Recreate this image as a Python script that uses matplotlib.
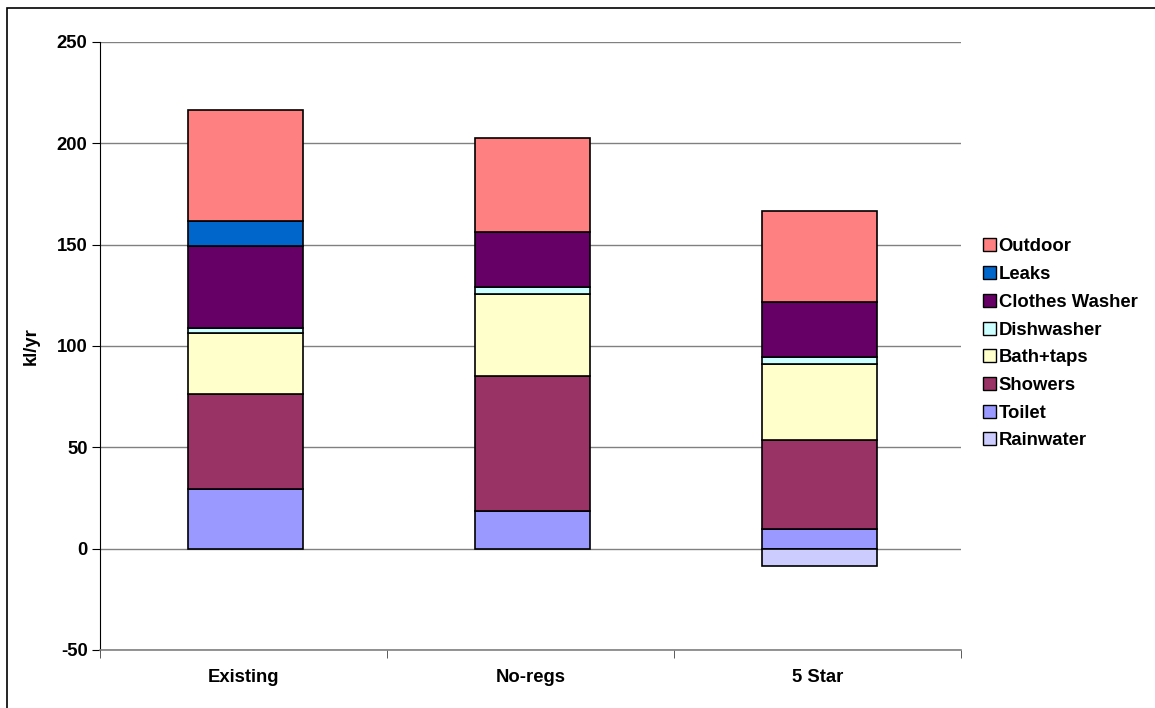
import numpy as np
import matplotlib
matplotlib.use('Agg')
import matplotlib.pyplot as plt
from matplotlib.patches import Patch, Rectangle

plt.rcParams['font.family'] = ['Liberation Sans', 'DejaVu Sans']
plt.rcParams['font.weight'] = 'bold'
plt.rcParams['axes.unicode_minus'] = False

scenarios = ['Existing', 'No-regs', '5 Star']

# stacked uses in kl/yr, bottom to top
toilet = [29.3, 18.6, 9.6]
showers = [46.8, 66.4, 43.9]
bath_taps = [30.3, 40.8, 37.6]
dishwasher = [2.6, 3.5, 3.5]
clothes_washer = [40.5, 27.1, 27.1]
leaks = [12.3, 0.0, 0.0]
outdoor = [54.6, 46.1, 44.8]
# rainwater offsets demand, drawn below zero
rainwater = [0.0, 0.0, -8.5]

layers = [
    ('Toilet', toilet, '#9999FF'),
    ('Showers', showers, '#993366'),
    ('Bath+taps', bath_taps, '#FFFFCC'),
    ('Dishwasher', dishwasher, '#CCFFFF'),
    ('Clothes Washer', clothes_washer, '#660066'),
    ('Leaks', leaks, '#0066CC'),
    ('Outdoor', outdoor, '#FF8080'),
]
rain_color = '#CCCCFF'
fs = 13.3

fig = plt.figure(figsize=(11.55, 7.08), dpi=100)
ax = fig.add_axes([100 / 1155, 1 - 650 / 708, 861 / 1155, 608 / 708])

x = np.arange(len(scenarios))
xb = x + 0.008
width = 0.4
bottom = np.zeros(len(scenarios))
for name, vals, color in layers:
    vals = np.array(vals)
    m = vals > 0
    ax.bar(xb[m], vals[m], width, bottom=bottom[m], color=color,
           edgecolor='black', linewidth=1.2, zorder=3)
    bottom += vals

rain = np.array(rainwater)
m = rain < 0
ax.bar(xb[m], rain[m], width, bottom=0, color=rain_color,
       edgecolor='black', linewidth=1.2, zorder=3)

ax.set_xlim(-0.5, 2.5)
ax.set_ylim(-50, 250)
ax.set_yticks(np.arange(-50, 251, 50))
ax.yaxis.grid(True, color='#808080', linewidth=1.0, zorder=0)
ax.set_axisbelow(True)

ax.set_xticks(x)
ax.set_xticklabels(scenarios, fontsize=fs, fontweight='bold')
ax.set_xticks([-0.5, 0.5, 1.5, 2.5], minor=True)
ax.tick_params(axis='x', which='major', length=0, pad=13.5)
ax.tick_params(axis='x', which='minor', length=6, direction='out',
               color='#404040')
ax.tick_params(axis='y', length=6, direction='out', labelsize=fs, pad=3)
for lbl in ax.get_yticklabels():
    lbl.set_fontweight('bold')

for side in ['top', 'right']:
    ax.spines[side].set_visible(False)
ax.spines['left'].set_color('black')
ax.spines['bottom'].set_color('#808080')
ax.spines['bottom'].set_linewidth(1.2)

ax.set_ylabel('kl/yr', fontsize=fs, fontweight='bold', labelpad=12)

handles = [Patch(facecolor=c, edgecolor='black', linewidth=1.0, label=n)
           for n, _, c in layers[::-1]]
handles.append(Patch(facecolor=rain_color, edgecolor='black',
                     linewidth=1.0, label='Rainwater'))
fig.legend(handles=handles, loc='upper left',
           bbox_to_anchor=(976 / 1155, 1 - 231 / 708), frameon=False,
           fontsize=fs, handlelength=0.7, handleheight=0.7,
           handletextpad=0.12, labelspacing=0.58, borderaxespad=0)

# outer chart border
fig.patches.append(Rectangle((7 / 1155, -0.05), 1.2, 1 - 8 / 708 + 0.05,
                             transform=fig.transFigure, fill=False,
                             edgecolor='black', linewidth=1.2))

fig.savefig('out.png', dpi=100)
